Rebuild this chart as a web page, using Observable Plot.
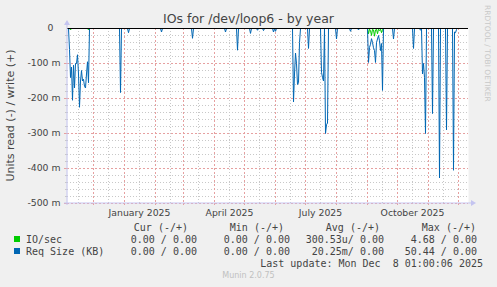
<!DOCTYPE html>
<html><head><meta charset="utf-8">
<script src="https://cdn.jsdelivr.net/npm/d3@7"></script>
<script src="https://cdn.jsdelivr.net/npm/@observablehq/plot@0.6"></script>
<style>
html,body{margin:0;padding:0;background:#f0f0f0;}
#chart svg{display:block;}
</style></head><body><div id="chart"></div>
<script>
// ---- data ----
const title = "IOs for /dev/loop6 - by year";
const yAxisTitle = "Units read (-) / write (+)";
const xDomain = ["2024-11-05", "2025-12-11"];
const yDomain = [-0.5, 0];

const reqDates = [
  "2024-11-05","2024-11-06","2024-11-07","2024-11-08","2024-11-09","2024-11-10","2024-11-11","2024-11-12",
  "2024-11-13","2024-11-14","2024-11-15","2024-11-16","2024-11-17","2024-11-18","2024-11-19","2024-11-20",
  "2024-11-21","2024-11-22","2024-11-23","2024-11-24","2024-11-25","2024-11-26","2024-11-27",
  "2024-12-27","2024-12-28","2024-12-29",
  "2025-01-04","2025-01-05","2025-01-06",
  "2025-02-06","2025-02-07","2025-02-08",
  "2025-03-09","2025-03-10","2025-03-11",
  "2025-04-11","2025-04-12","2025-04-13",
  "2025-04-23","2025-04-24","2025-04-25",
  "2025-05-06","2025-05-07","2025-05-08",
  "2025-05-13","2025-05-14","2025-05-15",
  "2025-05-19","2025-05-20","2025-05-21",
  "2025-05-29","2025-05-30","2025-05-31","2025-06-01","2025-06-02",
  "2025-06-18","2025-06-19","2025-06-20","2025-06-21","2025-06-22","2025-06-23","2025-06-24","2025-06-25","2025-06-26",
  "2025-07-03","2025-07-04","2025-07-05",
  "2025-07-16","2025-07-17","2025-07-18","2025-07-19","2025-07-20","2025-07-21","2025-07-22","2025-07-23","2025-07-24",
  "2025-07-31","2025-08-01","2025-08-02",
  "2025-08-14","2025-08-15","2025-08-16",
  "2025-08-22","2025-08-23","2025-08-24",
  "2025-09-01","2025-09-02","2025-09-03","2025-09-04","2025-09-05","2025-09-06","2025-09-07","2025-09-08","2025-09-09",
  "2025-09-10","2025-09-11","2025-09-12","2025-09-13","2025-09-14","2025-09-15","2025-09-16","2025-09-17",
  "2025-09-26","2025-09-27","2025-09-28",
  "2025-10-16","2025-10-17","2025-10-18",
  "2025-10-23","2025-10-24","2025-10-25","2025-10-26","2025-10-27","2025-10-28","2025-10-29","2025-10-30",
  "2025-11-04","2025-11-05","2025-11-06",
  "2025-11-11","2025-11-12","2025-11-13",
  "2025-11-18","2025-11-19","2025-11-20",
  "2025-11-25","2025-11-26","2025-11-27","2025-11-28","2025-11-29","2025-11-30",
  "2025-12-03"
];
const reqValues = [
  0,0,-0.06,-0.14,-0.11,-0.205,-0.105,-0.17,
  -0.10,-0.10,-0.075,-0.13,-0.225,-0.15,-0.12,-0.15,
  -0.145,-0.165,-0.17,-0.13,-0.095,-0.155,0,
  0,-0.183,0,
  0,-0.012,0,
  0,-0.01,0,
  0,-0.028,0,
  0,-0.01,0,
  0,-0.062,0,
  0,-0.014,0,
  0,-0.005,0,
  0,-0.006,0,
  0,-0.01,0,-0.008,0,
  0,-0.21,-0.13,-0.07,-0.10,-0.16,-0.155,-0.04,0,
  0,-0.057,0,
  0,-0.125,-0.14,-0.15,0,-0.30,-0.275,-0.27,0,
  0,-0.03,0,
  0,-0.008,0,
  0,-0.004,0,
  0,-0.097,-0.054,-0.045,-0.029,-0.04,-0.055,-0.063,-0.097,
  -0.04,-0.03,-0.02,-0.035,-0.063,-0.043,-0.177,0,
  0,-0.03,0,
  0,-0.057,0,
  0,-0.005,0,-0.13,-0.10,-0.14,-0.30,0,
  0,-0.243,0,
  0,-0.427,0,
  0,-0.29,0,
  0,-0.405,-0.01,-0.012,-0.003,0,
  0
];

const ioDates = [
  "2024-11-05","2024-11-07","2024-11-08","2024-11-09","2024-11-25","2024-11-26","2024-11-27",
  "2025-09-01","2025-09-02","2025-09-03","2025-09-04","2025-09-05","2025-09-06","2025-09-07","2025-09-08",
  "2025-09-09","2025-09-10","2025-09-11","2025-09-12","2025-09-13","2025-09-14","2025-09-15","2025-09-16","2025-09-17",
  "2025-12-03"
];
const ioValues = [
  0,0,-0.004,0,0,-0.004,0,
  0,-0.015,-0.002,-0.006,-0.02,-0.002,-0.004,-0.022,
  -0.004,-0.002,-0.015,-0.002,-0.006,-0.002,-0.012,-0.003,0,
  0
];

const yTicks = [0, -0.1, -0.2, -0.3, -0.4, -0.5];
const yTickLabels = ["0", "-100 m", "-200 m", "-300 m", "-400 m", "-500 m"];
const xLabelDates = ["2025-01-16", "2025-04-16", "2025-07-16", "2025-10-16"];
const xLabels = ["January 2025", "April 2025", "July 2025", "October 2025"];

const legendHeaders = ["Cur (-/+)", "Min (-/+)", "Avg (-/+)", "Max (-/+)"];
const legendNames = ["IO/sec", "Req Size (KB)"];
const legendColors = ["#00cc00", "#0066b3"];
const legendValues = [
  ["0.00 / 0.00", "0.00 / 0.00", "300.53u/ 0.00", "4.68 / 0.00"],
  ["0.00 / 0.00", "0.00 / 0.00", "20.25m/ 0.00", "50.44 / 0.00"]
];
const lastUpdate = "Last update: Mon Dec  8 01:00:06 2025";
const footer = "Munin 2.0.75";
const watermark = "RRDTOOL / TOBI OETIKER";

// ---- derived ----
const D = s => new Date(s + "T00:00:00Z");
const reqData = reqDates.map((d, i) => ({date: D(d), value: reqValues[i]}));
const ioData = ioDates.map((d, i) => ({date: D(d), value: ioValues[i]}));
const xd = xDomain.map(D);
const months = d3.utcMonth.range(xd[0], xd[1]);
const midMonths = months.map(m => d3.utcDay.offset(m, 15)).filter(d => d < xd[1]);
const firstMid = d3.utcDay.offset(d3.utcMonth.floor(xd[0]), 15);
if (firstMid > xd[0]) midMonths.unshift(firstMid);
const minorY = d3.range(0, 26).map(i => -i * 0.02).filter((v, i) => i % 5 !== 0);
const majorY = yTicks.filter(v => v !== 0);

const redGrid = "#e6a0a0", greyGrid = "#c8c8c8", axisCol = "#c4c4f0", textCol = "#444";

const plot = Plot.plot({
  width: 497, height: 287,
  marginLeft: 67, marginRight: 29, marginTop: 28, marginBottom: 84,
  style: {background: "#f0f0f0", fontFamily: "'DejaVu Sans'", fontSize: "9.3px", color: textCol, overflow: "visible"},
  x: {type: "utc", domain: xd, label: null},
  y: {domain: yDomain, label: null},
  marks: [
    Plot.frame({fill: "white", stroke: "none"}),
    Plot.ruleY(minorY, {stroke: greyGrid, strokeDasharray: "1,2"}),
    Plot.ruleX(midMonths, {stroke: greyGrid, strokeDasharray: "1,2"}),
    Plot.ruleY(majorY, {stroke: redGrid, strokeDasharray: "2,2"}),
    Plot.ruleX(months, {stroke: redGrid, strokeDasharray: "2,2"}),
    Plot.line(ioData, {x: "date", y: "value", stroke: "#00cc00", strokeWidth: 1}),
    Plot.line(reqData, {x: "date", y: "value", stroke: "#0066b3", strokeWidth: 1}),
    Plot.ruleY([0], {stroke: "black", strokeWidth: 1}),
    Plot.axisY(minorY, {tickSize: 2, tickFormat: () => "", stroke: greyGrid, label: null}),
    Plot.axisY(majorY, {tickSize: 3, tickFormat: v => yTickLabels[yTicks.indexOf(v)], tickPadding: 4, stroke: redGrid, fill: textCol, label: null}),
    Plot.axisY([0], {tickSize: 0, tickFormat: v => yTickLabels[0], tickPadding: 14, fill: textCol, label: null}),
    Plot.axisX(xLabelDates.map(D), {tickSize: 0, tickPadding: 6, tickFormat: d => xLabels[xLabelDates.indexOf(d.toISOString().slice(0,10))], fill: textCol, label: null}),
    Plot.axisX(months, {tickSize: 2, tickFormat: () => "", stroke: redGrid, label: null})
  ]
});
document.getElementById("chart").appendChild(plot);

// ---- decorations using the plot scales ----
const svg = d3.select(plot);
const xs = plot.scale("x"), ys = plot.scale("y");
const X0 = xs.apply(xd[0]), X1 = xs.apply(xd[1]);
const YB = ys.apply(yDomain[0]), YT = ys.apply(yDomain[1]);
const g = svg.append("g");
g.append("line").attr("x1", X0).attr("x2", X0).attr("y1", YB + 2).attr("y2", YT - 4).attr("stroke", axisCol);
g.append("line").attr("x1", X0 - 3).attr("x2", X1 + 4).attr("y1", YB).attr("y2", YB).attr("stroke", axisCol);
g.append("path").attr("d", `M${X0-3},${YT-3}L${X0+3},${YT-3}L${X0},${YT-8}Z`).attr("fill", axisCol);
g.append("path").attr("d", `M${X1+3},${YB-3}L${X1+3},${YB+3}L${X1+8},${YB}Z`).attr("fill", axisCol);

const W = 497;
const T = (x, y, font, fill, anchor, s) => svg.append("text").attr("x", x).attr("y", y)
  .attr("text-anchor", anchor).style("font", font).style("white-space", "pre").attr("fill", fill).text(s);
T(W / 2, 23, "12.5px 'DejaVu Sans'", textCol, "middle", title);
svg.append("text").attr("transform", `translate(14,${(YB + YT) / 2}) rotate(-90)`).attr("text-anchor", "middle")
  .style("font", "11px 'DejaVu Sans'").attr("fill", textCol).text(yAxisTitle);
svg.append("text").attr("transform", `translate(485,5) rotate(90)`).attr("text-anchor", "start")
  .style("font", "7.5px 'DejaVu Sans'").attr("fill", "#c8c8c8").text(watermark);

const mono = "10px 'DejaVu Sans Mono'";
const colRight = [197, 290, 384, 477];
const headRight = [188, 284, 380, 476];
legendHeaders.forEach((h, i) => T(headRight[i], 231, mono, textCol, "end", h));
legendNames.forEach((n, r) => {
  const y = 243 + r * 12;
  svg.append("rect").attr("x", 14).attr("y", y - 7).attr("width", 6).attr("height", 6).attr("fill", legendColors[r]);
  T(26, y, mono, textCol, "start", n);
  legendValues[r].forEach((v, i) => T(colRight[i], y, mono, textCol, "end", v));
});
T(483, 267, mono, textCol, "end", lastUpdate);
T(W / 2, 278, "8px 'DejaVu Sans'", "#c0c0c0", "middle", footer);
</script></body></html>
